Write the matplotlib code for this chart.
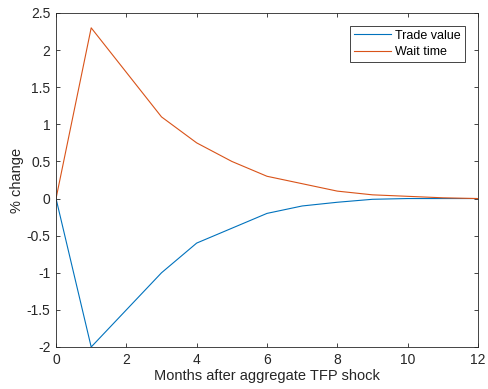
import numpy as np
import matplotlib.pyplot as plt

plt.rcParams['font.family'] = ['Liberation Sans', 'DejaVu Sans']

months = [0, 1, 2, 3, 4, 5, 6, 7, 8, 9, 10, 11, 12]
trade_value = [0, -2.0, -1.5, -1.0, -0.6, -0.4, -0.2, -0.1, -0.05, -0.01, 0.0, 0.0, 0.0]
wait_time = [0, 2.3, 1.7, 1.1, 0.75, 0.5, 0.3, 0.2, 0.1, 0.05, 0.03, 0.01, 0.0]

axis_col = '#262626'

fig = plt.figure(figsize=(4.88, 3.89), dpi=100)
ax = fig.add_axes([0.1148, 0.108, 0.8647, 0.8586])

ax.plot(months, trade_value, color=(0, 0.447, 0.741), lw=0.8, label='Trade value')
ax.plot(months, wait_time, color=(0.85, 0.325, 0.098), lw=0.8, label='Wait time')

ax.set_xlim(0, 12)
ax.set_ylim(-2, 2.5)
ax.set_xticks(np.arange(0, 13, 2))
ax.set_yticks(np.arange(-2, 2.51, 0.5))
ax.set_yticklabels(['-2', '-1.5', '-1', '-0.5', '0', '0.5', '1', '1.5', '2', '2.5'])
ax.tick_params(direction='in', top=True, right=True, length=3, width=0.6,
               labelsize=10, colors=axis_col, pad=4)
for s in ax.spines.values():
    s.set_color(axis_col)
    s.set_linewidth(0.6)

ax.set_xlabel('Months after aggregate TFP shock', fontsize=10.5, color=axis_col, labelpad=2)
ax.set_ylabel('% change', fontsize=10.5, color=axis_col, labelpad=2)

leg = ax.legend(loc='upper right', fontsize=9, fancybox=False, framealpha=1,
                edgecolor=axis_col, handlelength=3.0, borderaxespad=1.05,
                borderpad=0.3, labelspacing=0.35, handletextpad=0.35)
leg.get_frame().set_linewidth(0.6)

fig.savefig('out.png', dpi=100)
